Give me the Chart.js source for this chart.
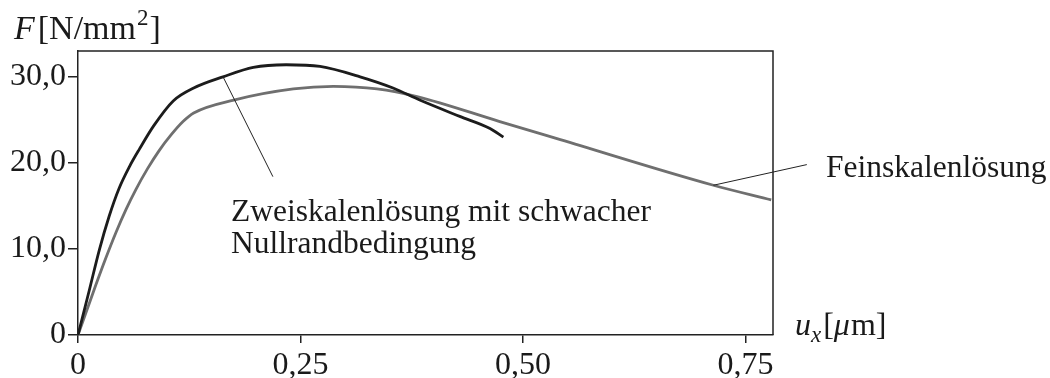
<!DOCTYPE html>
<html>
<head>
<meta charset="utf-8">
<script src="https://cdn.jsdelivr.net/npm/chart.js@4"></script>
<style>
  body { margin: 0; background: #fff; }
  #wrap { width: 1050px; height: 378px; }
</style>
</head>
<body>
<div id="wrap"><canvas id="forceChart" width="1050" height="378"></canvas></div>
<script>
// data
const zweiX = [0, 0.0127, 0.024, 0.035, 0.046, 0.058, 0.069, 0.085, 0.107, 0.130, 0.163, 0.197, 0.234, 0.272, 0.317, 0.354, 0.384, 0.429, 0.463, 0.478];
const zweiY = [0, 5.2, 9.9, 13.8, 17.0, 19.6, 21.6, 24.3, 27.2, 28.7, 30.0, 31.1, 31.4, 31.2, 30.0, 28.7, 27.3, 25.4, 24.0, 23.0];

const feinX = [0, 0.010, 0.020, 0.0315, 0.043, 0.054, 0.065, 0.078, 0.091, 0.105, 0.118, 0.130, 0.175, 0.242, 0.287, 0.336, 0.381, 0.474, 0.542, 0.714, 0.779];
const feinY = [0, 2.9, 5.8, 9.0, 12.0, 14.6, 16.9, 19.3, 21.4, 23.3, 24.8, 25.8, 27.3, 28.6, 28.9, 28.6, 27.7, 24.8, 22.7, 17.4, 15.7];

const xTicks = [0, 0.25, 0.5, 0.75];
const xTickLabels = ['0', '0,25', '0,50', '0,75'];
const yTicks = [0, 10, 20, 30];
const yTickLabels = ['0', '10,0', '20,0', '30,0'];

const toPoints = (xs, ys) => xs.map((x, i) => ({ x: x, y: ys[i] }));

const serif = "'Liberation Serif', 'DejaVu Serif', serif";

// top + right frame of the plot box
const framePlugin = {
    id: 'frame',
    afterDraw(chart) {
        const a = chart.chartArea;
        const ctx = chart.ctx;
        ctx.save();
        ctx.strokeStyle = '#222';
        ctx.lineWidth = 1.5;
        ctx.beginPath();
        ctx.moveTo(a.left, a.top);
        ctx.lineTo(a.right, a.top);
        ctx.lineTo(a.right, a.bottom);
        ctx.stroke();
        ctx.restore();
    }
};

// axis titles + the two labels with leader lines
const labelPlugin = {
    id: 'labels',
    afterDraw(chart) {
        const ctx = chart.ctx;
        const xs = chart.scales.x;
        const ys = chart.scales.y;
        ctx.save();
        ctx.fillStyle = '#1a1a1a';
        ctx.textBaseline = 'alphabetic';
        ctx.textAlign = 'left';

        // F[N/mm2]
        let px = 14;
        ctx.font = 'italic 34px ' + serif;
        ctx.fillText('F', px, 39);
        px += ctx.measureText('F').width + 3;
        ctx.font = '34px ' + serif;
        ctx.fillText('[N/mm', px, 39);
        px += ctx.measureText('[N/mm').width + 1;
        ctx.font = '23px ' + serif;
        ctx.fillText('2', px, 25);
        px += ctx.measureText('2').width + 1;
        ctx.font = '34px ' + serif;
        ctx.fillText(']', px, 39);

        // u_x[μm]
        px = 795;
        ctx.font = 'italic 32px ' + serif;
        ctx.fillText('u', px, 335);
        px += ctx.measureText('u').width;
        ctx.font = 'italic 23px ' + serif;
        ctx.fillText('x', px, 342);
        px += ctx.measureText('x').width + 2;
        ctx.font = '32px ' + serif;
        ctx.fillText('[', px, 335);
        px += ctx.measureText('[').width;
        ctx.font = 'italic 32px ' + serif;
        ctx.fillText('\u03bc', px, 335);
        px += ctx.measureText('\u03bc').width + 1;
        ctx.font = '32px ' + serif;
        ctx.fillText('m]', px, 335);

        // leader lines
        ctx.strokeStyle = '#222';
        ctx.lineWidth = 1;
        ctx.beginPath();
        ctx.moveTo(xs.getPixelForValue(0.163), ys.getPixelForValue(30.0));
        ctx.lineTo(xs.getPixelForValue(0.219), ys.getPixelForValue(18.4));
        ctx.moveTo(xs.getPixelForValue(0.714), ys.getPixelForValue(17.4));
        ctx.lineTo(xs.getPixelForValue(0.819), ys.getPixelForValue(19.8));
        ctx.stroke();

        ctx.font = '31.5px ' + serif;
        ctx.fillText('Zweiskalenlösung mit schwacher', 231, 221);
        ctx.fillText('Nullrandbedingung', 231, 253);
        ctx.fillText('Feinskalenlösung', 826, 177);
        ctx.restore();
    }
};

const ctx = document.getElementById('forceChart');

const forceChart = new Chart(ctx, {
    type: 'scatter',
    data: {
        datasets: [
            {
                label: 'Zweiskalenlösung mit schwacher Nullrandbedingung',
                data: toPoints(zweiX, zweiY),
                showLine: true,
                borderColor: '#1c1c1c',
                borderWidth: 2.8,
                pointRadius: 0,
                cubicInterpolationMode: 'monotone',
                fill: false
            },
            {
                label: 'Feinskalenlösung',
                data: toPoints(feinX, feinY),
                showLine: true,
                borderColor: '#6f6f6f',
                borderWidth: 2.8,
                pointRadius: 0,
                cubicInterpolationMode: 'monotone',
                fill: false
            }
        ]
    },
    options: {
        responsive: false,
        animation: false,
        devicePixelRatio: 1,
        layout: { padding: { left: 0, top: 51, right: 277, bottom: 0 } },
        plugins: {
            legend: { display: false },
            tooltip: { enabled: false }
        },
        scales: {
            x: {
                type: 'linear',
                min: 0,
                max: 0.781,
                afterFit(scale) { scale.height = 43; },
                afterBuildTicks(scale) { scale.ticks = xTicks.map(v => ({ value: v })); },
                grid: { drawOnChartArea: false, drawTicks: true, tickLength: 8, color: '#222', lineWidth: 1.5 },
                border: { display: true, color: '#222', width: 1.5 },
                ticks: {
                    autoSkip: false,
                    maxRotation: 0,
                    padding: 3,
                    color: '#1a1a1a',
                    font: { family: serif, size: 32 },
                    callback: (v, i) => xTickLabels[i]
                }
            },
            y: {
                type: 'linear',
                min: 0,
                max: 33,
                afterFit(scale) { scale.width = 78; },
                afterBuildTicks(scale) { scale.ticks = yTicks.map(v => ({ value: v })); },
                grid: { drawOnChartArea: false, drawTicks: true, tickLength: 10, color: '#222', lineWidth: 1.5 },
                border: { display: true, color: '#222', width: 1.5 },
                ticks: {
                    autoSkip: false,
                    padding: 2,
                    color: '#1a1a1a',
                    font: { family: serif, size: 32 },
                    callback: (v, i) => yTickLabels[i]
                }
            }
        }
    },
    plugins: [framePlugin, labelPlugin]
});
</script>
</body>
</html>
